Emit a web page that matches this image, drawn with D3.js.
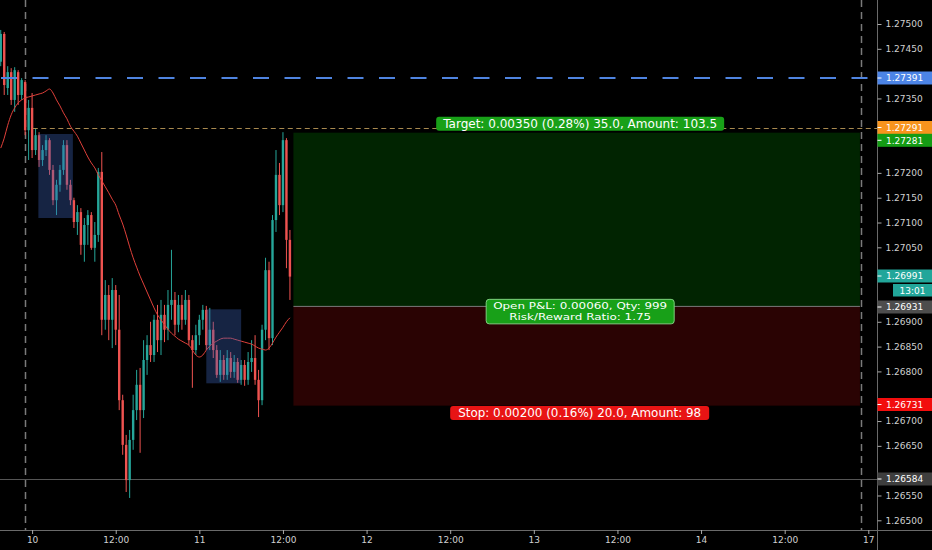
<!DOCTYPE html>
<html><head><meta charset="utf-8">
<script src="https://cdn.jsdelivr.net/npm/d3@7"></script>
<style>html,body{margin:0;padding:0;background:#000;overflow:hidden}text{font-family:"DejaVu Sans",Verdana,sans-serif}</style>
</head><body><svg id="c" width="932" height="550"></svg>
<script>
// ---- data (30 min bars, hours relative to day "10" 00:00) ----
const barStartHour = -4.5, barStepHour = 0.5;
const opens  = [1.27424,1.27480,1.27371,1.27403,1.27347,1.27403,1.27357,1.27383,1.27286,1.27331,1.27246,1.27276,1.27226,1.27246,1.27266,1.27206,1.27145,1.27176,1.27206,1.27256,1.27176,1.27145,1.27101,1.27121,1.27055,1.27095,1.27115,1.27049,1.27075,1.27202,1.26904,1.26954,1.26904,1.26964,1.26884,1.26742,1.26652,1.26581,1.26662,1.26722,1.26773,1.26722,1.26823,1.26853,1.26833,1.26904,1.26863,1.26914,1.26884,1.26934,1.26944,1.26894,1.26934,1.26904,1.26944,1.26863,1.26843,1.26873,1.26904,1.26924,1.26853,1.26884,1.26843,1.26793,1.26823,1.26793,1.26827,1.26799,1.26819,1.26783,1.26813,1.26783,1.26819,1.26827,1.26783,1.26742,1.26884,1.27004,1.26867,1.27105,1.27196,1.27135,1.27266,1.27065];
const highs  = [1.27488,1.27484,1.27415,1.27411,1.27413,1.27407,1.27391,1.27387,1.27347,1.27361,1.27290,1.27282,1.27256,1.27276,1.27270,1.27216,1.27186,1.27216,1.27266,1.27266,1.27186,1.27150,1.27135,1.27129,1.27109,1.27125,1.27121,1.27101,1.27210,1.27242,1.26984,1.26974,1.26988,1.26974,1.26954,1.26753,1.26672,1.26682,1.26753,1.26803,1.26807,1.26863,1.26873,1.26900,1.26914,1.26934,1.26944,1.26934,1.26964,1.27045,1.26960,1.26954,1.26954,1.26964,1.26954,1.26873,1.26894,1.26914,1.26934,1.26932,1.26928,1.26900,1.26853,1.26843,1.26833,1.26843,1.26839,1.26833,1.26827,1.26823,1.26823,1.26839,1.26863,1.26873,1.26803,1.26894,1.27029,1.27021,1.27115,1.27246,1.27220,1.27282,1.27270,1.27085];
const lows   = [1.27415,1.27357,1.27357,1.27337,1.27323,1.27337,1.27347,1.27276,1.27226,1.27230,1.27236,1.27212,1.27214,1.27234,1.27196,1.27135,1.27115,1.27162,1.27196,1.27166,1.27135,1.27089,1.27075,1.27035,1.27021,1.27055,1.27045,1.27021,1.27061,1.26873,1.26884,1.26863,1.26847,1.26853,1.26722,1.26632,1.26557,1.26545,1.26642,1.26702,1.26636,1.26706,1.26793,1.26819,1.26819,1.26839,1.26833,1.26859,1.26863,1.26904,1.26873,1.26879,1.26884,1.26894,1.26853,1.26767,1.26833,1.26853,1.26884,1.26843,1.26843,1.26827,1.26787,1.26779,1.26783,1.26783,1.26787,1.26787,1.26777,1.26773,1.26771,1.26773,1.26799,1.26773,1.26708,1.26732,1.26863,1.26843,1.26853,1.27081,1.27115,1.27121,1.27008,1.26944];
const closes = [1.27480,1.27377,1.27403,1.27347,1.27407,1.27357,1.27387,1.27286,1.27331,1.27246,1.27276,1.27226,1.27246,1.27266,1.27206,1.27145,1.27176,1.27206,1.27256,1.27176,1.27145,1.27101,1.27121,1.27055,1.27095,1.27115,1.27049,1.27075,1.27202,1.26904,1.26954,1.26904,1.26964,1.26884,1.26742,1.26652,1.26581,1.26662,1.26722,1.26773,1.26722,1.26823,1.26853,1.26833,1.26904,1.26863,1.26914,1.26884,1.26934,1.26944,1.26894,1.26934,1.26904,1.26944,1.26863,1.26843,1.26873,1.26904,1.26924,1.26853,1.26884,1.26843,1.26793,1.26823,1.26793,1.26827,1.26799,1.26819,1.26783,1.26813,1.26783,1.26819,1.26827,1.26783,1.26742,1.26884,1.27004,1.26867,1.27105,1.27196,1.27135,1.27266,1.27065,1.26991];
const maValues = [1.27250,1.27270,1.27296,1.27317,1.27331,1.27341,1.27347,1.27351,1.27353,1.27355,1.27357,1.27359,1.27361,1.27365,1.27369,1.27361,1.27347,1.27335,1.27321,1.27309,1.27294,1.27284,1.27274,1.27260,1.27246,1.27232,1.27220,1.27210,1.27196,1.27184,1.27172,1.27160,1.27147,1.27135,1.27115,1.27097,1.27075,1.27051,1.27029,1.27010,1.26992,1.26976,1.26960,1.26944,1.26928,1.26914,1.26904,1.26894,1.26885,1.26877,1.26871,1.26865,1.26861,1.26857,1.26853,1.26843,1.26833,1.26829,1.26833,1.26843,1.26851,1.26857,1.26861,1.26865,1.26867,1.26867,1.26867,1.26865,1.26863,1.26861,1.26859,1.26857,1.26855,1.26851,1.26847,1.26845,1.26843,1.26847,1.26857,1.26869,1.26879,1.26889,1.26900,1.26908];

const yTickValues = [1.265,1.2655,1.266,1.2665,1.267,1.2675,1.268,1.2685,1.269,1.2695,1.27,1.2705,1.271,1.2715,1.272,1.2725,1.273,1.2735,1.274,1.2745,1.275];
const xTickHours  = [0,12,24,36,48,60,72,84,96,108,120];
const xTickLabels = ["10","12:00","11","12:00","12","12:00","13","12:00","14","12:00","17"];
const sessionBreakHours = [-1,119];

const blueLevel = 1.27391, targetLevel = 1.27291, targetPrice = 1.27281, entryPrice = 1.26931, stopPrice = 1.26731, lastPrice = 1.26991, lowLevel = 1.26584;
const positionHours = [37.5, 118.8];
const rangeBoxes = [ {h0:0.9,h1:5.85,p0:1.271091,p1:1.272784}, {h0:25,h1:30,p0:1.26776,p1:1.269251} ];
const targetText = "Target: 0.00350 (0.28%) 35.0, Amount: 103.5";
const pnlLines = ["Open P&L: 0.00060, Qty: 999","Risk/Reward Ratio: 1.75"];
const stopText = "Stop: 0.00200 (0.16%) 20.0, Amount: 98";
const countdownText = "13:01";
const axisLabels = [
  {p:blueLevel, text:"1.27391", fill:"#4c84e6", y:78},
  {p:targetLevel, text:"1.27291", fill:"#f7941d", y:127.5},
  {p:targetPrice, text:"1.27281", fill:"#149b14", y:140.3},
  {p:lastPrice, text:"1.26991", fill:"#22a69a", y:276},
  {p:entryPrice, text:"1.26931", fill:"#4d4d4d", y:307},
  {p:stopPrice, text:"1.26731", fill:"#f20d0d", y:404.5},
  {p:lowLevel, text:"1.26584", fill:"#3e3e3e", y:479}
];

// ---- layout ----
const W=932, H=550, plotR=877.5, plotB=530;
const svg=d3.select("#c");
svg.append("rect").attr("width",W).attr("height",H).attr("fill","#000");
const x=d3.scaleLinear().domain([0,120]).range([32.1,868.3]);
const y=d3.scaleLinear().domain([1.265,1.275]).range([520.3,24]);
const hours=opens.map((_,i)=>barStartHour+barStepHour*i);
const up="#26a69a", dn="#ef5350";

const g=svg.append("g");
g.selectAll(".sb").data(sessionBreakHours).join("line")
 .attr("x1",d=>Math.round(x(d))+0.5).attr("x2",d=>Math.round(x(d))+0.5)
 .attr("y1",0).attr("y2",plotB).attr("stroke","#7a7a7a").attr("stroke-width",1.5).attr("stroke-dasharray","7,5");
g.append("line").attr("x1",0).attr("x2",plotR).attr("y1",Math.round(y(lowLevel))+0.5).attr("y2",Math.round(y(lowLevel))+0.5).attr("stroke","#555").attr("stroke-width",1);

// position boxes
const px0=x(positionHours[0]), px1=x(positionHours[1]);
g.append("rect").attr("x",px0).attr("width",px1-px0).attr("y",y(targetPrice)).attr("height",y(entryPrice)-y(targetPrice)).attr("fill","#012401");
g.append("rect").attr("x",px0).attr("width",px1-px0).attr("y",y(entryPrice)).attr("height",y(stopPrice)-y(entryPrice)).attr("fill","#2a0303");
g.append("line").attr("x1",px0).attr("x2",px1).attr("y1",y(entryPrice)).attr("y2",y(entryPrice)).attr("stroke","#7a7a7a").attr("stroke-width",1);

// candles
const cw=2.4;
const cg=g.append("g");
cg.selectAll(".w").data(hours).join("line")
 .attr("x1",(h)=>x(h)).attr("x2",(h)=>x(h))
 .attr("y1",(h,i)=>y(highs[i])).attr("y2",(h,i)=>y(lows[i]))
 .attr("stroke",(h,i)=>closes[i]>=opens[i]?up:dn).attr("stroke-width",1);
cg.selectAll(".b").data(hours).join("rect")
 .attr("x",h=>x(h)-cw/2).attr("width",cw)
 .attr("y",(h,i)=>y(Math.max(opens[i],closes[i])))
 .attr("height",(h,i)=>Math.max(1,Math.abs(y(opens[i])-y(closes[i]))))
 .attr("fill",(h,i)=>closes[i]>=opens[i]?up:dn);

// moving average
g.append("path").datum(maValues).attr("fill","none").attr("stroke","#e0403a").attr("stroke-width",1)
 .attr("d",d3.line().x((d,i)=>x(hours[i])).y(d=>y(d)).curve(d3.curveMonotoneX));

// range boxes over candles
g.selectAll(".rb").data(rangeBoxes).join("rect")
 .attr("x",d=>x(d.h0)).attr("width",d=>x(d.h1)-x(d.h0))
 .attr("y",d=>y(d.p1)).attr("height",d=>y(d.p0)-y(d.p1))
 .attr("fill","rgba(60,100,185,0.36)");

// horizontal levels
g.append("line").attr("x1",0).attr("x2",plotR).attr("y1",y(blueLevel)).attr("y2",y(blueLevel))
 .attr("stroke","#4f84e0").attr("stroke-width",2).attr("stroke-dasharray","16,15.5").attr("stroke-dashoffset",-1);
g.append("line").attr("x1",x(0.1)).attr("x2",plotR).attr("y1",Math.round(y(targetLevel))+0.5).attr("y2",Math.round(y(targetLevel))+0.5)
 .attr("stroke","#a8894f").attr("stroke-width",1).attr("stroke-dasharray","5,3.5");

// labels of position
const cx=(px0+px1)/2;
function pill(cxv, cyv, w, h, fill, stroke){
  g.append("rect").attr("x",cxv-w/2).attr("y",cyv-h/2).attr("width",w).attr("height",h).attr("rx",3)
   .attr("fill",fill).attr("stroke",stroke||"none").attr("stroke-width",1);
}
function label(t, xv, yv, fs, len){
  g.append("text").attr("x",xv).attr("y",yv).attr("dy","0.36em").attr("text-anchor","middle").attr("fill","#fff")
   .attr("font-size",fs).attr("textLength",len).attr("lengthAdjust","spacingAndGlyphs").text(t);
}
pill(cx+3.5, 123.7, 288, 14, "#18a018");
label(targetText, cx+3.5, 123.9, 11.6, 274);
pill(cx+3.5, 311.6, 188, 24.5, "#18a018", "#7fd07f");
label(pnlLines[0], cx+3.5, 305.9, 9.4, 174);
label(pnlLines[1], cx+3.5, 316.9, 9.4, 142);
pill(cx+3, 413, 259, 14, "#e81414");
label(stopText, cx+3, 413.2, 11.6, 243);

// axes
const ax=svg.append("g");
ax.append("rect").attr("x",plotR).attr("y",0).attr("width",W-plotR).attr("height",H).attr("fill","#000");
ax.append("rect").attr("x",0).attr("y",plotB).attr("width",W).attr("height",H-plotB).attr("fill","#000");
ax.append("line").attr("x1",plotR).attr("x2",plotR).attr("y1",0).attr("y2",H).attr("stroke","#6a6a6a");
ax.append("line").attr("x1",0).attr("x2",W).attr("y1",plotB+0.5).attr("y2",plotB+0.5).attr("stroke","#6a6a6a");
const labelYs = axisLabels.map(l=>l.y).concat([290.3]);
const visibleTicks = yTickValues.filter(v=>labelYs.every(ly=>Math.abs(y(v)-ly)>10));
const yAxis=d3.axisRight(y).tickValues(visibleTicks).tickFormat(d3.format(".5f")).tickSize(4).tickPadding(4);
const ya=ax.append("g").attr("transform",`translate(${plotR},0)`).call(yAxis);
ya.select(".domain").remove();
ya.selectAll("line").attr("stroke","#aaa");
ya.selectAll("text").attr("fill","#d0d0d0").attr("font-size",9).attr("font-family","DejaVu Sans");
const xAxis=d3.axisBottom(x).tickValues(xTickHours).tickFormat((d,i)=>xTickLabels[i]).tickSize(4).tickPadding(3);
const xa=ax.append("g").attr("transform",`translate(0,${plotB})`).call(xAxis);
xa.select(".domain").remove();
xa.selectAll("line").attr("stroke","#aaa");
xa.selectAll("text").attr("fill","#d0d0d0").attr("font-size",9).attr("font-family","DejaVu Sans");

// axis price labels
axisLabels.forEach(l=>{
  ax.append("rect").attr("x",plotR).attr("y",l.y-6.5).attr("width",W-plotR).attr("height",13).attr("fill",l.fill);
  ax.append("line").attr("x1",plotR).attr("x2",plotR+4).attr("y1",l.y).attr("y2",l.y).attr("stroke","#fff");
  ax.append("text").attr("x",plotR+8.5).attr("y",l.y).attr("dy","0.36em").attr("fill","#fff").attr("font-size",9).text(l.text);
});
ax.append("rect").attr("x",893).attr("y",284).attr("width",W-893).attr("height",12.5).attr("fill","#22a69a");
ax.append("text").attr("x",912.5).attr("y",290.3).attr("dy","0.36em").attr("text-anchor","middle").attr("fill","#fff").attr("font-size",9).text(countdownText);
</script></body></html>
